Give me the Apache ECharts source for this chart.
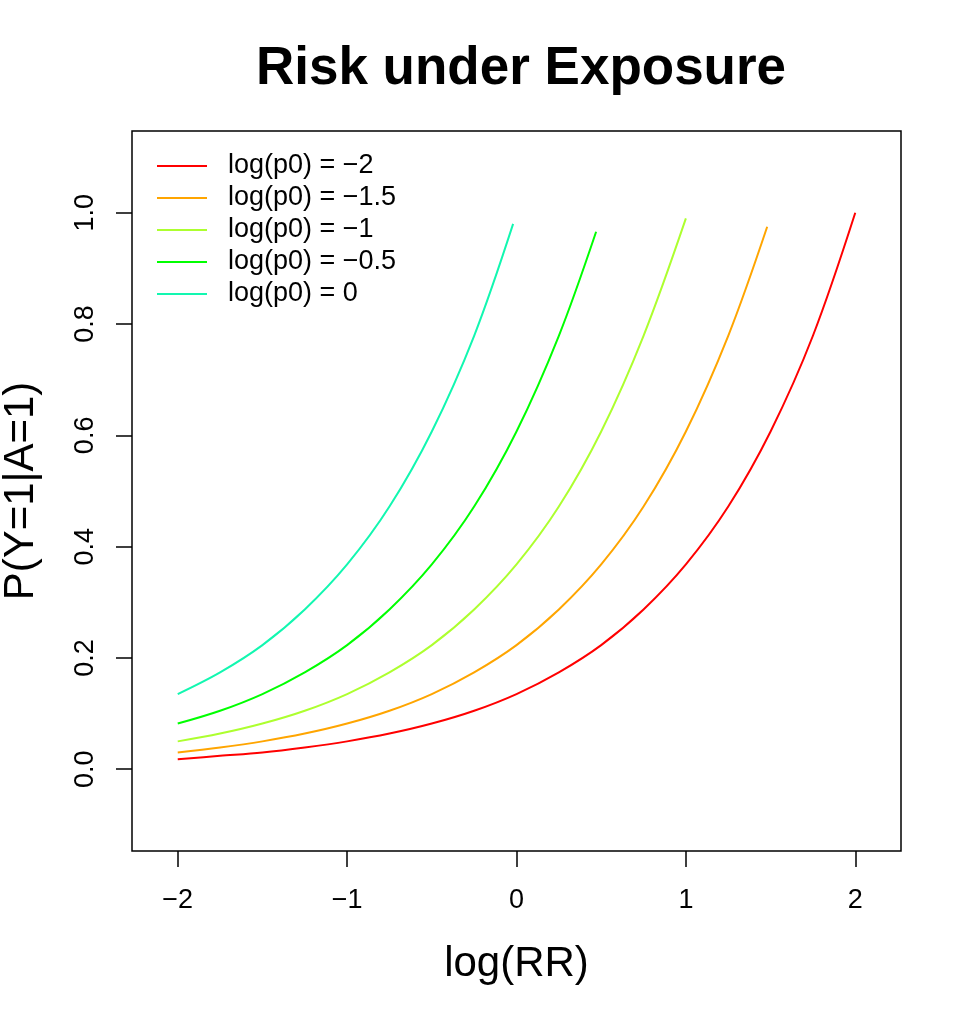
<!DOCTYPE html>
<html>
<head>
<meta charset="utf-8">
<script src="https://cdn.jsdelivr.net/npm/echarts@6/dist/echarts.min.js"></script>
<style>
  html, body { margin: 0; padding: 0; background: #fff; }
  #chart { width: 969px; height: 1016px; }
</style>
</head>
<body>
<div id="chart"></div>
<script>
// values
const names = ['log(p0) = \u22122', 'log(p0) = \u22121.5', 'log(p0) = \u22121', 'log(p0) = \u22120.5', 'log(p0) = 0']
const colors = ['#ff0000', '#ffa500', '#adff2f', '#00ff00', '#12f7b0']

const xRed = [-2, -1.75, -1.5, -1.25, -1, -0.75, -0.5, -0.25, 0, 0.25, 0.5, 0.75, 1, 1.25, 1.5, 1.75, 2]
const yRed = [0.018, 0.024, 0.030, 0.039, 0.050, 0.064, 0.082, 0.105, 0.135, 0.174, 0.223, 0.287, 0.368, 0.472, 0.607, 0.779, 1.0]

const xOrange = [-2, -1.75, -1.5, -1.25, -1, -0.75, -0.5, -0.25, 0, 0.25, 0.5, 0.75, 1, 1.25, 1.48]
const yOrange = [0.030, 0.039, 0.050, 0.064, 0.082, 0.105, 0.135, 0.174, 0.223, 0.287, 0.368, 0.472, 0.607, 0.779, 0.975]

const xYellow = [-2, -1.75, -1.5, -1.25, -1, -0.75, -0.5, -0.25, 0, 0.25, 0.5, 0.75, 1]
const yYellow = [0.050, 0.064, 0.082, 0.105, 0.135, 0.174, 0.223, 0.287, 0.368, 0.472, 0.607, 0.779, 0.99]

const xGreen = [-2, -1.75, -1.5, -1.25, -1, -0.75, -0.5, -0.25, 0, 0.25, 0.47]
const yGreen = [0.082, 0.105, 0.135, 0.174, 0.223, 0.287, 0.368, 0.472, 0.607, 0.779, 0.966]

const xCyan = [-2, -1.75, -1.5, -1.25, -1, -0.75, -0.5, -0.25, -0.02]
const yCyan = [0.135, 0.174, 0.223, 0.287, 0.368, 0.472, 0.607, 0.779, 0.98]

const xTicks = [-2, -1, 0, 1, 2]
const yTicks = [0, 0.2, 0.4, 0.6, 0.8, 1.0]

const curves = [[xRed, yRed], [xOrange, yOrange], [xYellow, yYellow], [xGreen, yGreen], [xCyan, yCyan]]

const font = '"Liberation Sans", Arial, Helvetica, sans-serif'

const chart = echarts.init(document.getElementById('chart'))

chart.setOption({
  animation: false,
  textStyle: { fontFamily: font, color: '#000' },
  title: {
    text: 'Risk under Exposure',
    left: 516,
    textAlign: 'center',
    top: 38,
    textStyle: { fontFamily: font, fontSize: 53, fontWeight: 'bold', color: '#000' }
  },
  legend: {
    orient: 'vertical',
    left: 151,
    top: 145,
    itemWidth: 50,
    itemHeight: 14,
    itemGap: 0,
    data: names,
    itemStyle: { color: 'transparent', borderWidth: 0 },
    textStyle: { fontFamily: font, fontSize: 27, color: '#000', lineHeight: 32, padding: [0, 0, 0, 16] }
  },
  grid: {
    left: 132, right: 68, top: 131, bottom: 165,
    show: true,
    borderColor: '#000',
    borderWidth: 1.5,
    outerBoundsMode: 'none',
    containLabel: false
  },
  xAxis: {
    type: 'value',
    min: -2.27,
    max: 2.27,
    name: 'log(RR)',
    nameLocation: 'middle',
    nameGap: 92,
    nameTextStyle: { fontFamily: font, fontSize: 42, color: '#000' },
    axisLine: { show: false, onZero: false },
    splitLine: { show: false },
    axisTick: { show: true, customValues: xTicks, length: 16, lineStyle: { color: '#000', width: 1.5 } },
    axisLabel: {
      customValues: xTicks,
      margin: 36,
      fontSize: 27,
      color: '#000',
      fontFamily: font,
      formatter: v => (v < 0 ? '\u2212' + Math.abs(v) : String(v))
    }
  },
  yAxis: {
    type: 'value',
    min: -0.147,
    max: 1.147,
    name: 'P(Y=1|A=1)',
    nameLocation: 'middle',
    nameGap: 90,
    nameTextStyle: { fontFamily: font, fontSize: 42, color: '#000' },
    axisLine: { show: false, onZero: false },
    splitLine: { show: false },
    axisTick: { show: true, customValues: yTicks, length: 16, lineStyle: { color: '#000', width: 1.5 } },
    axisLabel: {
      customValues: yTicks,
      rotate: 90,
      margin: 33,
      fontSize: 27,
      color: '#000',
      fontFamily: font,
      formatter: v => v.toFixed(1)
    }
  },
  series: curves.map((c, i) => ({
    name: names[i],
    type: 'line',
    smooth: 0.35,
    symbol: 'none',
    showSymbol: false,
    color: colors[i],
    lineStyle: { width: 2, color: colors[i] },
    data: c[0].map((x, j) => [x, c[1][j]])
  }))
})
</script>
</body>
</html>
